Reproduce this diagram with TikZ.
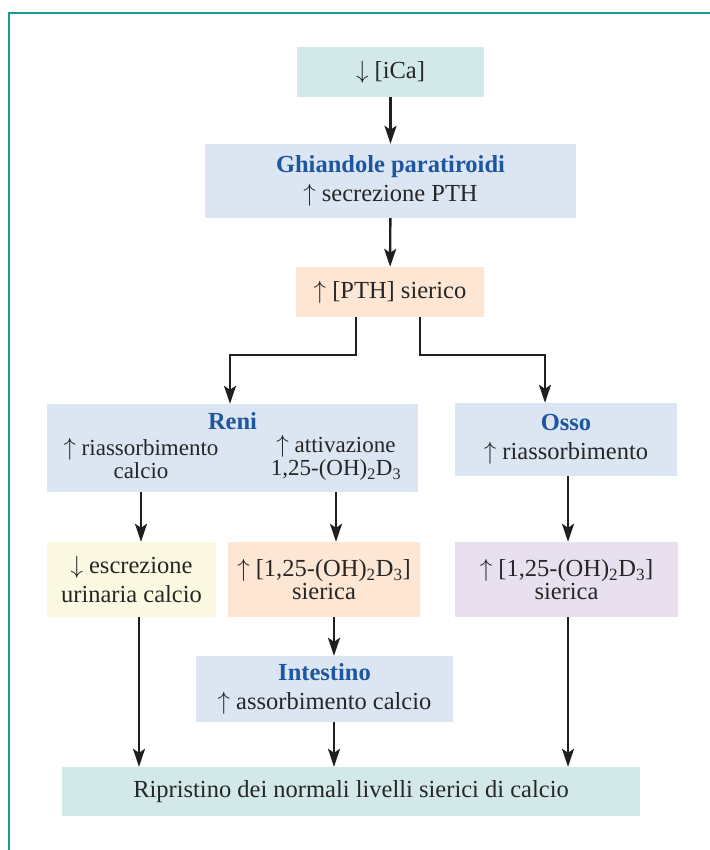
\documentclass[tikz,border=0pt]{standalone}
\usepackage{fontspec}
\setmainfont{Liberation Serif}
\usepackage{xcolor}
\definecolor{frameteal}{RGB}{26, 154, 148}
\definecolor{titleblue}{RGB}{31, 86, 160}
\definecolor{fillteal}{RGB}{211, 232, 232}
\definecolor{fillblue}{RGB}{220, 230, 242}
\definecolor{fillpeach}{RGB}{253, 230, 212}
\definecolor{fillyellow}{RGB}{252, 249, 226}
\definecolor{filllilac}{RGB}{232, 224, 239}
\usetikzlibrary{arrows.meta}
\tikzset{
  box/.style={fill=#1, inner sep=0pt, align=center, text=black!85,
    font=\fontsize{24.5}{23}\selectfont},
  titled/.style={font=\fontsize{24.5}{29.5}\selectfont},
  arr/.style={line width=2.4pt, black!88,
    -{Stealth[length=18pt, width=12pt, inset=4pt]}},
}
\newcommand{\tit}[1]{{\bfseries\color{titleblue}#1}}
\newcommand{\su}{$\uparrow$}
\newcommand{\giu}{$\downarrow$}
\newcommand{\diidrossi}{1,25-(OH)\textsubscript{2}D\textsubscript{3}}

\begin{document}
\begin{tikzpicture}[x=1pt, y=-1pt]
        \useasboundingbox (0,0) rectangle (709,850);
        \draw[frameteal, line width=2.5pt] (9,851) -- (9,13) -- (710,13);
        % boxes
        \node[box=fillteal, minimum width=187, minimum height=50] (ica) at (390.5,72) {\giu\ [iCa]};
        \node[box=fillblue, titled, minimum width=371, minimum height=74] (ghi) at (390.5,181)
          {\tit{Ghiandole paratiroidi}\\ \su\ secrezione PTH};
        \node[box=fillpeach, minimum width=188, minimum height=50] (pth) at (390,292) {\su\ [PTH] sierico};
        \node[box=fillblue, minimum width=371, minimum height=88] (reni) at (232.5,448) {};
        \node[font=\fontsize{24.5}{23}\selectfont] (renititle) at (232.5,421) {\tit{Reni}};
        \node[box=none, text=black!85, align=center, font=\fontsize{23}{23}\selectfont] (reniA) at (141,458)
          {\su\ riassorbimento\\ calcio};
        \node[box=none, text=black!85, align=center, font=\fontsize{23}{23}\selectfont] (reniB) at (336,458)
          {\su\ attivazione\\ \diidrossi};
        \node[box=fillblue, titled, minimum width=222, minimum height=73] (osso) at (566,439.5)
          {\tit{Osso}\\ \su\ riassorbimento};
        \node[box=fillyellow, titled, minimum width=169, minimum height=75] (escr) at (131.5,579.5)
          {\giu\ escrezione\\ urinaria calcio};
        \node[box=fillpeach, minimum width=192, minimum height=75] (sierA) at (324,579.5)
          {\su\ [\diidrossi]\\ sierica};
        \node[box=filllilac, minimum width=223, minimum height=75] (sierB) at (566.5,579.5)
          {\su\ [\diidrossi]\\ sierica};
        \node[box=fillblue, titled, minimum width=257, minimum height=66] (intest) at (324.5,689)
          {\tit{Intestino}\\ \su\ assorbimento calcio};
        \node[box=fillteal, minimum width=578, minimum height=49] (ripr) at (351,791.5)
          {Ripristino dei normali livelli sierici di calcio};
        % connectors
        \draw[arr] (ica) -- (ghi);
        \draw[arr] (ghi) -- (pth);
        \draw[arr] ([xshift=-34pt]pth.south) |- ++(-126,38) -- (reni.north -| 230,0);
        \draw[arr] ([xshift=30pt]pth.south) |- ++(125,38) -- (osso.north -| 545,0);
        \draw[arr] (reniA |- reni.south) -- (reniA |- escr.north);
        \draw[arr] (reniB |- reni.south) -- (reniB |- sierA.north);
        \draw[arr] (osso.south -| 568,0) -- (sierB.north -| 568,0);
        \draw[arr] (sierA.south -| 334,0) -- (intest.north -| 334,0);
        \draw[arr] (escr.south -| 139,0) -- (ripr.north -| 139,0);
        \draw[arr] (intest.south -| 334,0) -- (ripr.north -| 334,0);
        \draw[arr] (sierB.south -| 568,0) -- (ripr.north -| 568,0);
      \end{tikzpicture}
\end{document}
